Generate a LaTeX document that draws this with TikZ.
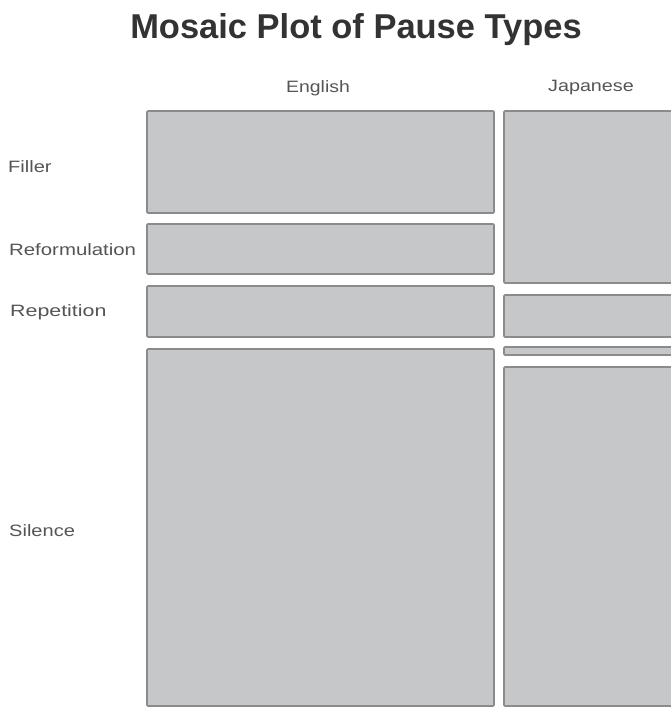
\documentclass[tikz,border=0pt]{standalone}
\usepackage{fontspec}
\setmainfont{Liberation Sans}
\definecolor{tilefill}{HTML}{C6C7C9}
\definecolor{tileedge}{HTML}{8A8B8D}
\definecolor{labelgray}{HTML}{555555}
\definecolor{titlegray}{HTML}{333333}
\begin{document}
\begin{tikzpicture}[x=1bp,y=-1bp,
  tile/.style={fill=tilefill,draw=tileedge,line width=1.6bp,rounded corners=1bp},
  lbl/.style={text=labelgray,inner sep=0pt,font=\fontsize{16.5}{18}\selectfont},
  ttl/.style={text=titlegray,inner sep=0pt,font=\fontsize{34.6}{38}\selectfont\bfseries}]
\useasboundingbox[fill=white] (0,0) rectangle (671,707);
\clip (0,0) rectangle (671,707);
% title
\node[ttl] (title) at (356,30) {Mosaic Plot of Pause Types};
% column labels
\node[lbl] (english) at (318,88) {\scalebox{1.18}[1]{English}};
\node[lbl] (japanese) at (591,88) {\scalebox{1.2}[1]{Japanese}};
% row labels
\node[lbl,anchor=west] (filler) at (8,167) {\scalebox{1.22}[1]{Filler}};
\node[lbl,anchor=west] (reform) at (9,250) {\scalebox{1.24}[1]{Reformulation}};
\node[lbl,anchor=west] (repet) at (10,312) {\scalebox{1.3}[1]{Repetition}};
\node[lbl,anchor=west] (silence) at (9,531) {\scalebox{1.22}[1]{Silence}};
% English tiles
\draw[tile] (147,111) rectangle (494,213);
\draw[tile] (147,224) rectangle (494,274);
\draw[tile] (147,286) rectangle (494,337);
\draw[tile] (147,349) rectangle (494,706);
% Japanese tiles
\draw[tile] (504,111) rectangle (690,283);
\draw[tile] (504,295) rectangle (690,337);
\draw[tile] (504,347) rectangle (690,355);
\draw[tile] (504,367) rectangle (690,706);
\end{tikzpicture}
\end{document}
